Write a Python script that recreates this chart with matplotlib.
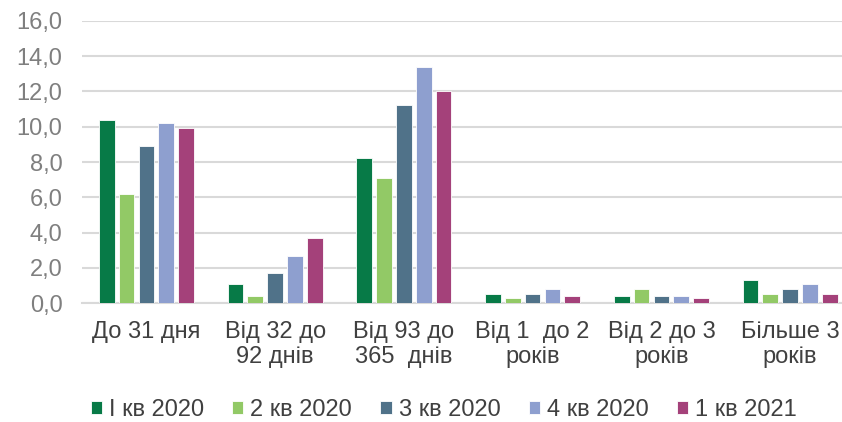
import matplotlib
matplotlib.use("Agg")
import matplotlib.pyplot as plt
import numpy as np

categories = ["До 31 дня", "Від 32 до\n92 днів", "Від 93 до\n365  днів",
              "Від 1  до 2\nроків", "Від 2 до 3\nроків", "Більше 3\nроків"]
series_names = ["І кв 2020", "2 кв 2020", "3 кв 2020", "4 кв 2020", "1 кв 2021"]
q1_2020 = [10.4, 1.1, 8.2, 0.5, 0.4, 1.3]
q2_2020 = [6.2, 0.4, 7.1, 0.3, 0.8, 0.5]
q3_2020 = [8.9, 1.7, 11.2, 0.5, 0.4, 0.8]
q4_2020 = [10.2, 2.7, 13.4, 0.8, 0.4, 1.1]
q1_2021 = [9.9, 3.7, 12.0, 0.4, 0.3, 0.5]
yticks = [0, 2, 4, 6, 8, 10, 12, 14, 16]

colors = ["#077A47", "#92C966", "#507289", "#8E9FCF", "#A4417A"]
series = [q1_2020, q2_2020, q3_2020, q4_2020, q1_2021]

plt.rcParams['font.family'] = ['Liberation Sans', 'DejaVu Sans']

fig = plt.figure(figsize=(8.42, 4.22), dpi=100)
ax = fig.add_axes([82/842, (422-303.3)/422, 772.5/842, (303.3-20.7)/422])

x = np.arange(len(categories))
step = 0.154
width = 0.122
handles = []
for i, (vals, c) in enumerate(zip(series, colors)):
    b = ax.bar(x + (i - 2) * step, vals, width=width, color=c,
               edgecolor='white', linewidth=0.6, zorder=3, label=series_names[i])
    handles.append(b)

ax.set_xlim(-0.5, 5.5)
ax.set_ylim(0, 16)
ax.set_yticks(yticks)
ax.set_yticklabels([f"{v:.1f}".replace('.', ',') for v in yticks])
ax.set_xticks(x)
ax.set_xticklabels(categories, linespacing=1.15)
ax.tick_params(axis='y', length=0, pad=14, labelsize=17, labelcolor='#7F7F7F')
ax.tick_params(axis='x', length=0, pad=13, labelsize=17, labelcolor='#404040')
ax.grid(axis='y', color='#D9D9D9', linewidth=1.5, zorder=0)
for s in ['top', 'right', 'left']:
    ax.spines[s].set_visible(False)
ax.spines['bottom'].set_color('#D9D9D9')
ax.spines['bottom'].set_linewidth(1.5)

leg = fig.legend(handles=handles, labels=series_names, loc='center',
                 bbox_to_anchor=(0.527, 0.028), ncol=5, frameon=False,
                 fontsize=17, handlelength=0.47, handleheight=0.47,
                 handletextpad=0.3, columnspacing=1.2, borderpad=0, borderaxespad=0)
for t in leg.get_texts():
    t.set_color('#404040')

fig.savefig("out.png", dpi=100)
